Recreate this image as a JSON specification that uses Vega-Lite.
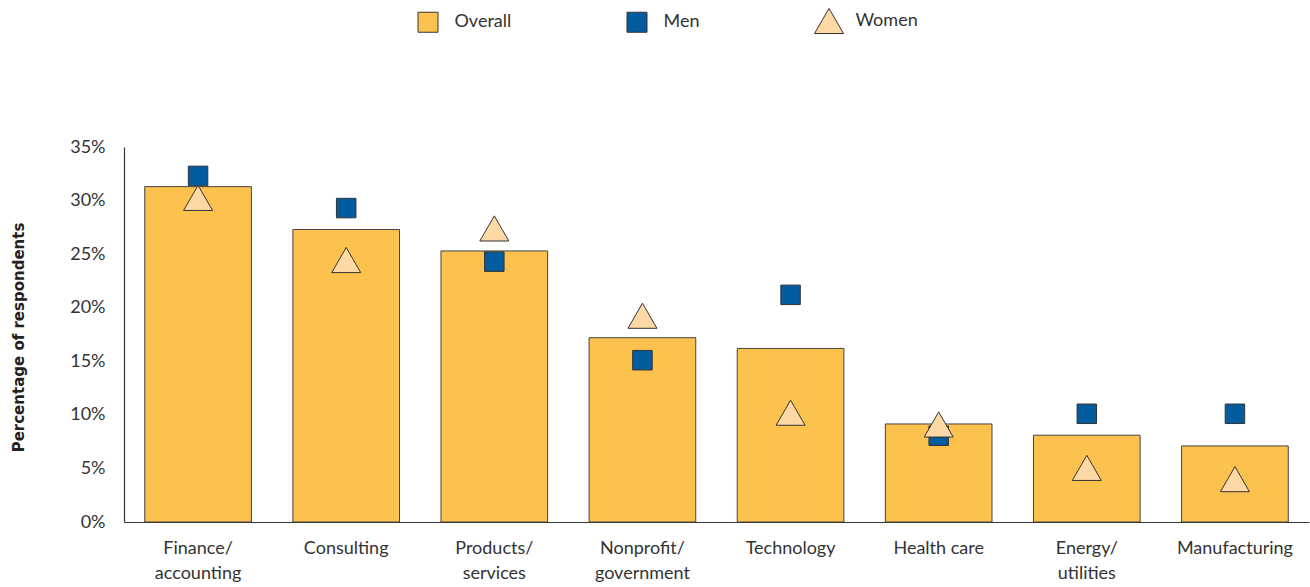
{
  "$schema": "https://vega.github.io/schema/vega-lite/v6.json",
  "autosize": {"type": "none"},
  "width": 1185,
  "height": 375,
  "padding": {"left": 124, "top": 147, "right": 1, "bottom": 65},
  "background": "white",
  "config": {
    "view": {"stroke": null},
    "font": "Lato",
    "axis": {"labelFont": "Lato", "titleFont": "DejaVu Sans"},
    "legend": {"labelFont": "Lato"}
  },
  "data": {
    "values": [
      {"industry": "Finance/accounting", "series": "Overall", "value": 31.3},
      {"industry": "Consulting", "series": "Overall", "value": 27.3},
      {"industry": "Products/services", "series": "Overall", "value": 25.3},
      {"industry": "Nonprofit/government", "series": "Overall", "value": 17.2},
      {"industry": "Technology", "series": "Overall", "value": 16.2},
      {"industry": "Health care", "series": "Overall", "value": 9.15},
      {"industry": "Energy/utilities", "series": "Overall", "value": 8.1},
      {"industry": "Manufacturing", "series": "Overall", "value": 7.1},
      {"industry": "Finance/accounting", "series": "Men", "value": 32.3},
      {"industry": "Consulting", "series": "Men", "value": 29.3},
      {"industry": "Products/services", "series": "Men", "value": 24.3},
      {"industry": "Nonprofit/government", "series": "Men", "value": 15.1},
      {"industry": "Technology", "series": "Men", "value": 21.2},
      {"industry": "Health care", "series": "Men", "value": 8.05},
      {"industry": "Energy/utilities", "series": "Men", "value": 10.1},
      {"industry": "Manufacturing", "series": "Men", "value": 10.1},
      {"industry": "Finance/accounting", "series": "Women", "value": 30.25},
      {"industry": "Consulting", "series": "Women", "value": 24.45},
      {"industry": "Products/services", "series": "Women", "value": 27.4},
      {"industry": "Nonprofit/government", "series": "Women", "value": 19.25},
      {"industry": "Technology", "series": "Women", "value": 10.2},
      {"industry": "Health care", "series": "Women", "value": 9.1},
      {"industry": "Energy/utilities", "series": "Women", "value": 5.05},
      {"industry": "Manufacturing", "series": "Women", "value": 4.0}
    ]
  },
  "encoding": {
    "x": {
      "field": "industry",
      "type": "nominal",
      "sort": null,
      "scale": {"paddingInner": 0.28, "paddingOuter": 0.14},
      "axis": {
        "title": null,
        "labelAngle": 0,
        "ticks": false,
        "domainColor": "#333333",
        "domainWidth": 1.2,
        "labelFontSize": 18,
        "labelColor": "#333333",
        "labelPadding": 17,
        "labelLineHeight": 25,
        "labelLimit": 200,
        "labelExpr": "indexof(datum.value,'/')>0 ? [slice(datum.value,0,indexof(datum.value,'/')+1), slice(datum.value,indexof(datum.value,'/')+1)] : datum.value"
      }
    },
    "y": {
      "field": "value",
      "type": "quantitative",
      "scale": {"domain": [0, 35], "nice": false},
      "axis": {
        "title": "Percentage of respondents",
        "titleFontSize": 15,
        "titleFontWeight": "bold",
        "titleColor": "#222222",
        "titleX": -106,
        "titleY": 190,
        "titleAngle": -90,
        "titleBaseline": "middle",
        "titleAlign": "center",
        "values": [0, 5, 10, 15, 20, 25, 30, 35],
        "labelExpr": "datum.value + '%'",
        "grid": false,
        "ticks": false,
        "domainColor": "#333333",
        "domainWidth": 1.2,
        "labelFontSize": 18,
        "labelColor": "#333333",
        "labelPadding": 19
      }
    }
  },
  "layer": [
    {
      "transform": [{"filter": "datum.series === 'Overall'"}],
      "mark": {"type": "bar", "stroke": "#444444", "strokeWidth": 1},
      "encoding": {
        "fill": {
          "field": "series",
          "type": "nominal",
          "scale": {"domain": ["Overall", "Men", "Women"], "range": ["#FCC24D", "#035C9E", "#FED9A6"]},
          "legend": {
            "title": null,
            "orient": "none",
            "direction": "horizontal",
            "legendX": 293.5,
            "legendY": -137,
            "padding": 0,
            "labelFontSize": 18,
            "labelColor": "#333333",
            "labelOffset": 16,
            "columnPadding": 113,
            "symbolSize": 400,
            "symbolStrokeColor": "#333333",
            "symbolStrokeWidth": 1,
            "encode": {
              "symbols": {
                "update": {
                  "size": {"signal": "datum.value === 'Women' ? 841 : 400"}
                }
              }
            }
          }
        }
      }
    },
    {
      "transform": [{"filter": "datum.series === 'Men'"}],
      "mark": {"type": "point", "filled": true, "size": 380, "stroke": "#333333", "strokeWidth": 1, "opacity": 1},
      "encoding": {
        "fill": {"field": "series", "type": "nominal"},
        "shape": {
          "field": "series",
          "type": "nominal",
          "scale": {"domain": ["Overall", "Men", "Women"], "range": ["square", "square", "triangle-up"]}
        }
      }
    },
    {
      "transform": [{"filter": "datum.series === 'Women'"}],
      "mark": {"type": "point", "filled": true, "size": 841, "stroke": "#333333", "strokeWidth": 1, "opacity": 1},
      "encoding": {
        "fill": {"field": "series", "type": "nominal"},
        "shape": {"field": "series", "type": "nominal"}
      }
    }
  ]
}
